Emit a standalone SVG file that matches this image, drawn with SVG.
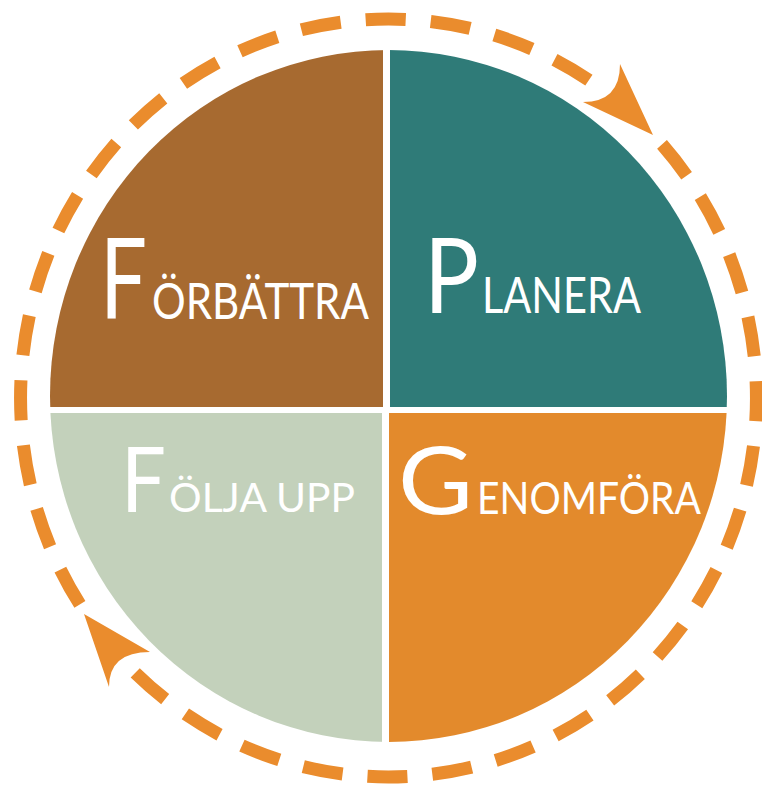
<svg xmlns="http://www.w3.org/2000/svg" width="762" height="785" viewBox="0 0 762 785">
<style>
.big{font-family:Lato,"Open Sans",sans-serif;font-weight:400;fill:#ffffff;}
.sc{font-family:Lato,"Open Sans",sans-serif;font-weight:400;fill:#ffffff;}
.ring{fill:none;stroke:#EA8C2D;stroke-width:13;stroke-linecap:butt;stroke-dasharray:40 25;}
.arrow{fill:#EA8C2D;}
</style>
<defs>
<clipPath id="pie"><ellipse cx="388.5" cy="396" rx="338.5" ry="346"/></clipPath>
</defs>
<rect width="762" height="785" fill="#ffffff"/>
<g clip-path="url(#pie)">
<g id="forbattra">
<rect x="40" y="40" width="343" height="367" fill="#A76A30"/>
<text class="big" x="100" y="319" font-size="112" textLength="47" lengthAdjust="spacingAndGlyphs">F</text>
<text class="sc" x="152" y="319" font-size="50" textLength="217" lengthAdjust="spacingAndGlyphs">ÖRBÄTTRA</text>
</g>
<g id="planera">
<rect x="390" y="40" width="345" height="367" fill="#2F7B78"/>
<text class="big" x="424" y="313" font-size="105" textLength="55" lengthAdjust="spacingAndGlyphs">P</text>
<text class="sc" x="482" y="313" font-size="50" textLength="159" lengthAdjust="spacingAndGlyphs">LANERA</text>
</g>
<g id="folja-upp">
<rect x="40" y="413" width="342" height="340" fill="#C3D1BB"/>
<text class="big" x="121" y="512" font-size="91" textLength="45" lengthAdjust="spacingAndGlyphs">F</text>
<text class="sc" x="169" y="512" font-size="40" textLength="186" lengthAdjust="spacingAndGlyphs">ÖLJA UPP</text>
</g>
<g id="genomfora">
<rect x="389" y="413" width="346" height="340" fill="#E38A2C"/>
<text class="big" x="398" y="514" font-size="94" textLength="75" lengthAdjust="spacingAndGlyphs">G</text>
<text class="sc" x="477" y="514" font-size="44" textLength="224" lengthAdjust="spacingAndGlyphs">ENOMFÖRA</text>
</g>
</g>
<g id="connectors">
<path class="ring" pathLength="1145" d="M662,144.4 A368,379 0 0 1 135.2,672.9"/>
<path class="ring" pathLength="1015" d="M79.9,604.4 A368,379 0 0 1 588.9,80.1"/>
<path class="arrow" d="M653,135 L583,102 Q620,102 620,64 Z"/>
<path class="arrow" d="M84,614 L150,652 Q109,652 109,687 Z"/>
</g>
</svg>
